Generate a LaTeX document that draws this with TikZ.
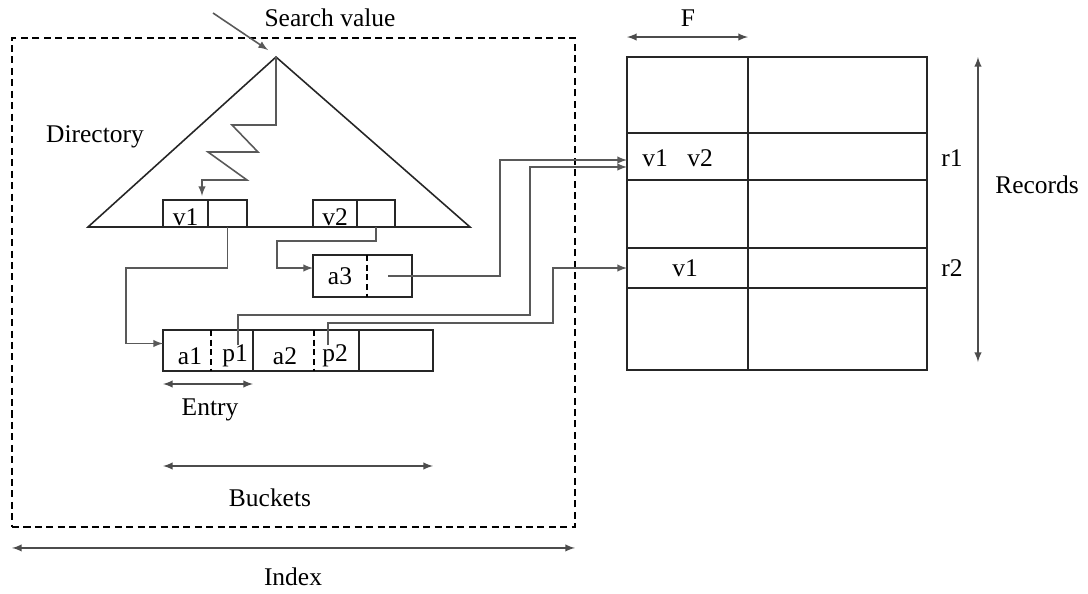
\documentclass[tikz,border=0pt]{standalone}
\usepackage{fontspec}
\setmainfont{Liberation Serif}
\usetikzlibrary{arrows,positioning,calc}
\tikzset{
    box/.style={rectangle, draw=black!85, line width=0.9pt, inner sep=0pt, outer sep=0pt, font=\fontsize{14}{16}\selectfont},
    lbl/.style={font=\fontsize{14.5}{16}\selectfont, inner sep=1pt},
    ptr/.style={draw=black!65, line width=0.9pt, -latex},
    dim/.style={draw=black!70, line width=0.9pt, latex-latex},
    sep/.style={dash pattern=on 3.5pt off 2pt, line width=0.9pt},
}

\begin{document}
\begin{tikzpicture}[x=0.02cm, y=-0.02cm]
    \useasboundingbox (0,0) rectangle (1088,593);
    % Index frame
    \node[box, dash pattern=on 4pt off 2.5pt, draw=black, minimum width=11.26cm, minimum height=9.78cm] (index) at (293.5,282.5) {};
    \draw[dim] ([yshift=-0.42cm]index.south west) -- ([yshift=-0.42cm]index.south east);
    \node[lbl] (indext) at (293,577) {Index};
    % Directory
    \coordinate (apex) at (276,57);
    \coordinate (bl) at (88,227);
    \coordinate (br) at (470,227);
    \draw[black!85, line width=0.9pt] (bl) -- (apex) -- (br) -- cycle;
    \node[lbl] (dir) at (95,137) {Directory};
    \node[lbl] (sval) at (330,18) {Search value};
    \coordinate (svs) at (213,13);
    \draw[ptr] (svs) -- ([shift={(-0.16cm,0.14cm)}]apex);
    \draw[ptr] (apex) -- ++(0,68) -- ++(-44,0) -- ++(26,27) -- ++(-50,0)
        -- ++(39,28) -- ++(-45,0) -- ++(0,16);
    \node[box, minimum width=0.90cm, minimum height=0.54cm] (v1) at (185.5,213.5) {};
    \node[box, minimum width=0.78cm, minimum height=0.54cm] (v1p) at (227.5,213.5) {};
    \node[box, minimum width=0.88cm, minimum height=0.54cm] (v2) at (335,213.5) {};
    \node[box, minimum width=0.76cm, minimum height=0.54cm] (v2p) at (376,213.5) {};
    \node[lbl] (v1t) at (185.5,217) {v1};
    \node[lbl] (v2t) at (335,217) {v2};
    % Overflow entry
    \node[box, minimum width=1.98cm, minimum height=0.84cm] (a3) at (362.5,276) {};
    \node[lbl] (a3t) at (340,276) {a3};
    \draw[sep] ([xshift=0.09cm]a3.north) -- ([xshift=0.09cm]a3.south);
    \coordinate (a3p) at (388,276);
    % Buckets
    \node[box, minimum width=1.80cm, minimum height=0.82cm] (e1) at (208,350.5) {};
    \node[box, minimum width=2.12cm, minimum height=0.82cm] (e2) at (306,350.5) {};
    \node[box, minimum width=1.48cm, minimum height=0.82cm] (e3) at (396,350.5) {};
    \draw[sep] ([xshift=0.06cm]e1.north) -- ([xshift=0.06cm]e1.south);
    \draw[sep] ([xshift=0.16cm]e2.north) -- ([xshift=0.16cm]e2.south);
    \foreach \t/\x in {a1/190, p1/235, a2/285, p2/335} {
        \node[lbl] (\t) at (\x,356) {\t};
    }
    \coordinate (p1p) at (238,345);
    \coordinate (p2p) at (328,345);
    \draw[dim] ([yshift=-0.26cm]e1.south west) -- ([yshift=-0.26cm]e1.south east);
    \node[lbl] (entry) at (210,410) {Entry};
    \draw[dim] ([yshift=-1.9cm]e1.south west) -- ([yshift=-1.9cm]e3.south east);
    \node[lbl] (buckets) at (270,498) {Buckets};
    % Records table
    \foreach \r/\y/\h in {0/95/1.52, 1/156.5/0.94, 2/214/1.36, 3/268/0.80, 4/329/1.64} {
        \node[box, minimum width=2.42cm, minimum height=\h cm] (r\r L) at (687.5,\y) {};
        \node[box, minimum width=3.58cm, minimum height=\h cm] (r\r R) at (837.5,\y) {};
    }
    \node[lbl] (t11) at (655,158) {v1};
    \node[lbl] (t12) at (700,158) {v2};
    \node[lbl] (t21) at (685,268) {v1};
    \node[lbl] (rr1) at (952,158) {r1};
    \node[lbl] (rr2) at (952,268) {r2};
    \draw[dim] ([yshift=0.4cm]r0L.north west) -- ([yshift=0.4cm]r0L.north east);
    \node[lbl] (F) at (688,18) {F};
    \draw[dim] ([xshift=1.02cm]r0R.north east) -- ([xshift=1.02cm, yshift=0.16cm]r4R.south east);
    \node[lbl] (rec) at (1037,185) {Records};
    % Pointers
    \draw[ptr] (v1p.south) -- ++(0,41) -| ([xshift=-0.74cm, yshift=0.14cm]e1.west) -- ([yshift=0.14cm]e1.west);
    \draw[ptr] (v2p.south) -- ++(0,14) -| ([xshift=-0.72cm, yshift=0.16cm]a3.west) -- ([yshift=0.16cm]a3.west);
    \draw[ptr] (a3p) -- ++(112,0) |- ([yshift=-0.07cm]r1L.west);
    \draw[ptr] (p1p) -- ++(0,-30) -- ++(292,0) |- ([yshift=-0.21cm]r1L.west);
    \draw[ptr] (p2p) -- ++(0,-22) -- ++(225,0) |- (r3L.west);
\end{tikzpicture}
\end{document}
